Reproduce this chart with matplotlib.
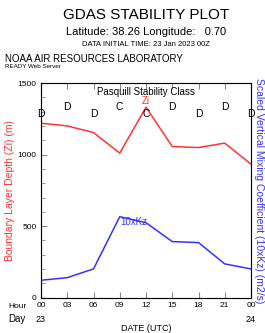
import matplotlib
matplotlib.use("Agg")
import matplotlib.pyplot as plt
from matplotlib.ticker import MultipleLocator

plt.rcParams["font.family"] = ["Liberation Sans", "DejaVu Sans"]

hours = [0, 3, 6, 9, 12, 15, 18, 21, 24]
hour_labels = ["00", "03", "06", "09", "12", "15", "18", "21", "00"]
zi = [1219, 1200, 1154, 1010, 1331, 1056, 1049, 1080, 933]
kz10 = [122, 140, 201, 566, 524, 392, 385, 236, 201]
stab = ["D", "D", "D", "C", "C", "D", "D", "D", "D"]

W, H = 265, 333
fig = plt.figure(figsize=(W / 100, H / 100), dpi=100)
ax = fig.add_axes([41 / W, 1 - 297.7 / H, 210 / W, (297.7 - 83) / H])

red = "#ff3333"
blue = "#3333ff"
ax.plot(hours, zi, color=red, lw=1.1)
ax.plot(hours, kz10, color=blue, lw=1.1)
ax.set_xlim(0, 24)
ax.set_ylim(0, 1500)
ax.set_xticks(hours)
ax.set_xticklabels(hour_labels)
ax.set_yticks([0, 500, 1000, 1500])
ax.yaxis.set_minor_locator(MultipleLocator(100))
ax.tick_params(which="both", direction="in", top=True, right=True, labelsize=6,
               color="#888888", pad=3)
ax.tick_params(which="major", length=4)
ax.tick_params(which="minor", length=3)
for s in ax.spines.values():
    s.set_color("#888888")
    s.set_linewidth(0.8)

ax.set_ylabel("Boundary Layer Depth (Zi) (m)", color=red, fontsize=7.5, labelpad=2)
ax2 = ax.twinx()
ax2.set_ylim(0, 1500)
ax2.set_yticks([])
ax2.set_ylabel("Scaled Vertical Mixing Coefficient (10xKz) (m2/s)", color=blue,
               fontsize=7.5, rotation=270, labelpad=9)

# stability letters, alternating heights
for i, (h, s) in enumerate(zip(hours, stab)):
    y = 1280 if i % 2 == 0 else 1330
    ax.text(h, y, s, ha="center", va="center", fontsize=7.5)
ax.text(12, 1375, "Zi", color=red, ha="center", va="center", fontsize=7)
ax.text(12, 1440, "Pasquill Stability Class", ha="center", va="center", fontsize=7)
ax.text(10.6, 530, "10xKz", color=blue, ha="center", va="center", fontsize=7)

fig.text(8 / W, 1 - 307 / H, "Hour", fontsize=6, va="center")
fig.text(8 / W, 1 - 319 / H, "Day", fontsize=7, va="center")
fig.text(41 / W, 1 - 319 / H, "23", fontsize=6.5, va="center", ha="center")
fig.text(251 / W, 1 - 319 / H, "24", fontsize=6.5, va="center", ha="center")
fig.text(146 / W, 1 - 328.5 / H, "DATE (UTC)", fontsize=6.5, va="center", ha="center")

fig.text(146 / W, 1 - 15 / H, "GDAS STABILITY PLOT", fontsize=11, ha="center", va="center")
fig.text(146 / W, 1 - 32 / H, "Latitude: 38.26 Longitude:   0.70", fontsize=8,
         ha="center", va="center")
fig.text(146 / W, 1 - 45 / H, "DATA INITIAL TIME: 23 Jan 2023 00Z", fontsize=5.5,
         ha="center", va="center")
fig.text(5 / W, 1 - 59 / H, "NOAA AIR RESOURCES LABORATORY", fontsize=7, va="center")
fig.text(5 / W, 1 - 67 / H, "READY Web Server", fontsize=4.5, va="center")

fig.savefig("out.png", dpi=100)
